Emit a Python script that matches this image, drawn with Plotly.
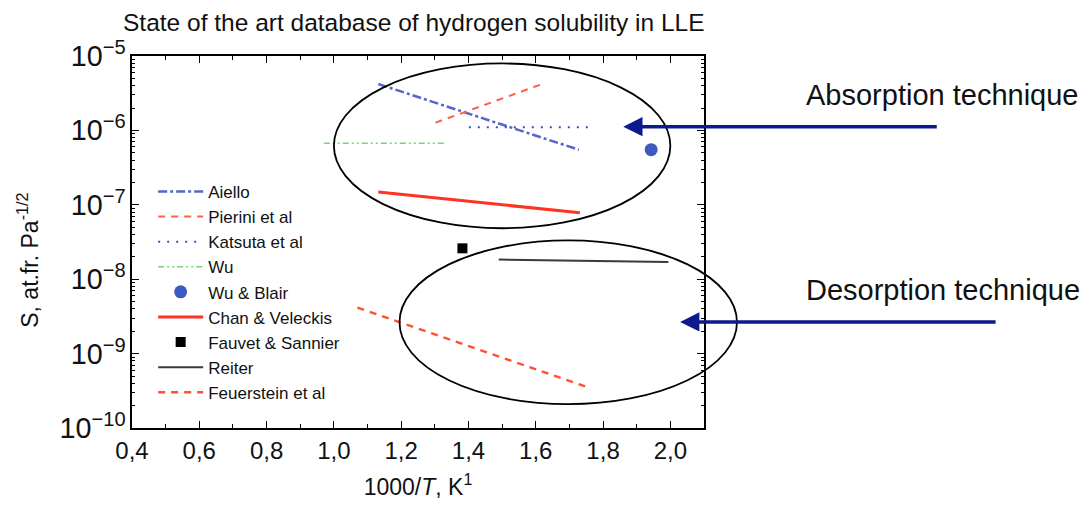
import math
import plotly.graph_objects as go

# ---------------- data ----------------
aiello_x = [1.132, 1.728]
aiello_y = [4.2e-6, 5.5e-7]
pierini_x = [1.302, 1.616]
pierini_y = [1.27e-6, 4.15e-6]
katsuta_x = [1.401, 1.760]
katsuta_y = [1.1e-6, 1.1e-6]
wu_x = [0.97, 1.328]
wu_y = [6.7e-7, 6.7e-7]
wublair_x = [1.943]
wublair_y = [5.5e-7]
chan_x = [1.132, 1.731]
chan_y = [1.49e-7, 7.8e-8]
fauvet_x = [1.382]
fauvet_y = [2.6e-8]
reiter_x = [1.49, 1.994]
reiter_y = [1.84e-8, 1.70e-8]
feuer_x = [1.07, 1.757]
feuer_y = [4.15e-9, 3.5e-10]

x_ticks = [0.4, 0.6, 0.8, 1.0, 1.2, 1.4, 1.6, 1.8, 2.0]

# regions (in data units) grouped by technique
absorption_box = dict(x=[1.0, 2.0], y=[10 ** -7.315, 10 ** -5.1])
desorption_box = dict(x=[1.195, 2.198], y=[10 ** -9.68, 10 ** -7.479])
absorption_arrow = dict(x=1.86, y=1.12e-6)
desorption_arrow = dict(x=2.029, y=2.66e-9)

X_RANGE = [0.4, 2.1]
Y_RANGE = [-10, -5]

FONT = "Liberation Sans, Arial, Helvetica, sans-serif"


def xp(v):
    return (v - X_RANGE[0]) / (X_RANGE[1] - X_RANGE[0])


def yp(v):
    return (math.log10(v) - Y_RANGE[0]) / (Y_RANGE[1] - Y_RANGE[0])


fig = go.Figure()

fig.add_trace(go.Scatter(x=aiello_x, y=aiello_y, mode="lines", name="Aiello",
                         line=dict(color="#5466c8", width=2.5, dash="9px,3px,3px,3px")))
fig.add_trace(go.Scatter(x=pierini_x, y=pierini_y, mode="lines", name="Pierini et al",
                         line=dict(color="#ff6048", width=2, dash="7px,6px")))
fig.add_trace(go.Scatter(x=katsuta_x, y=katsuta_y, mode="lines", name="Katsuta et al",
                         line=dict(color="#3a50b8", width=2, dash="2px,7px")))
fig.add_trace(go.Scatter(x=wu_x, y=wu_y, mode="lines", name="Wu",
                         line=dict(color="#78d478", width=1.5, dash="6px,3px,2px,3px,2px,3px")))
fig.add_trace(go.Scatter(x=wublair_x, y=wublair_y, mode="markers", name="Wu &amp; Blair",
                         marker=dict(color="#3d5bbf", size=13, symbol="circle")))
fig.add_trace(go.Scatter(x=chan_x, y=chan_y, mode="lines", name="Chan &amp; Veleckis",
                         line=dict(color="#ff3322", width=3)))
fig.add_trace(go.Scatter(x=fauvet_x, y=fauvet_y, mode="markers", name="Fauvet &amp; Sannier",
                         marker=dict(color="black", size=10, symbol="square")))
fig.add_trace(go.Scatter(x=reiter_x, y=reiter_y, mode="lines", name="Reiter",
                         line=dict(color="#3a3a3a", width=2)))
fig.add_trace(go.Scatter(x=feuer_x, y=feuer_y, mode="lines", name="Feuerstein et al",
                         line=dict(color="#ff5030", width=2.5, dash="7px,6px")))

shapes = []
for box in (absorption_box, desorption_box):
    shapes.append(dict(type="circle", xref="paper", yref="paper",
                       x0=xp(box["x"][0]), x1=xp(box["x"][1]),
                       y0=yp(box["y"][0]), y1=yp(box["y"][1]),
                       line=dict(color="black", width=1.8)))

annotations = [
    dict(x=absorption_arrow["x"], y=math.log10(absorption_arrow["y"]), xref="x", yref="y",
         ax=315, ay=0, text="", showarrow=True, arrowhead=2, arrowsize=1.1,
         arrowwidth=3.5, arrowcolor="#0b1a8c", standoff=0),
    dict(x=desorption_arrow["x"], y=math.log10(desorption_arrow["y"]), xref="x", yref="y",
         ax=317, ay=0, text="", showarrow=True, arrowhead=2, arrowsize=1.1,
         arrowwidth=3.5, arrowcolor="#0b1a8c", standoff=0),
    dict(x=1.658, y=0.895, xref="paper", yref="paper", xanchor="right", yanchor="middle",
         text="Absorption technique", showarrow=False,
         font=dict(family=FONT, size=29, color="#111111")),
    dict(x=1.660, y=0.37, xref="paper", yref="paper", xanchor="right", yanchor="middle",
         text="Desorption technique", showarrow=False,
         font=dict(family=FONT, size=29, color="#111111")),
    dict(x=-0.182, y=0.452, xref="paper", yref="paper", xanchor="center", yanchor="middle",
         text="S, at.fr. Pa<sup>-1/2</sup>", textangle=-90, showarrow=False,
         font=dict(family=FONT, size=23, color="#111111")),
]

# the page body adds an 8px offset, so the figure is 8px smaller on each axis
fig.update_layout(
    width=1082, height=501,
    margin=dict(l=124, r=386, t=48, b=81, autoexpand=False),
    paper_bgcolor="white", plot_bgcolor="white",
    separators=",.",
    font=dict(family=FONT, color="#111111"),
    title=dict(text="State of the art database of hydrogen solubility in LLE",
               x=0.1063, xref="container", xanchor="left", y=0.972, yanchor="middle",
               font=dict(family=FONT, size=24.5, color="#111111")),
    showlegend=True,
    legend=dict(x=0.037, y=0.683, xanchor="left", yanchor="top", itemwidth=45,
                bgcolor="rgba(0,0,0,0)", borderwidth=0, tracegroupgap=0,
                font=dict(family=FONT, size=17, color="#111111")),
    shapes=shapes,
    annotations=annotations,
)

fig.update_xaxes(
    range=X_RANGE, tickmode="array", tickvals=x_ticks, tickformat=".1f", automargin=False,
    showgrid=False, zeroline=False, showline=True, linecolor="black", linewidth=1.5,
    mirror="ticks", ticks="inside", ticklen=7, tickcolor="black", tickwidth=1.2,
    minor=dict(dtick=0.1, tick0=0.4, ticks="inside", ticklen=4, tickcolor="black", showgrid=False),
    tickfont=dict(family=FONT, size=24, color="#111111"),
    title=dict(text="1000/<i>T</i>, K<sup>1</sup>", standoff=16,
               font=dict(family=FONT, size=23, color="#111111")),
)
fig.update_yaxes(
    type="log", range=Y_RANGE, dtick=1, exponentformat="power", showexponent="all",
    automargin=False,
    showgrid=False, zeroline=False, showline=True, linecolor="black", linewidth=1.5,
    mirror="ticks", ticks="inside", ticklen=7, tickcolor="black", tickwidth=1.2,
    minor=dict(ticks="inside", ticklen=3, tickcolor="black", showgrid=False),
    tickfont=dict(family=FONT, size=23, color="#111111"),
)

fig.write_html("out.html")
